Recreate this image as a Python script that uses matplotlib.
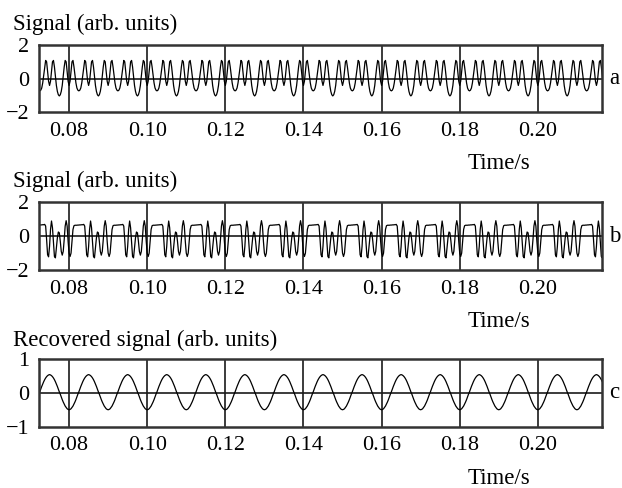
import numpy as np
import matplotlib.pyplot as plt

plt.rcParams['font.family'] = ['Liberation Serif', 'DejaVu Serif']
plt.rcParams['axes.unicode_minus'] = True

# the three traces repeat every 10 ms; one period,
# 40 samples (0.25 ms apart) starting at t = 0.08 s
period = 0.01
n_per = 40
sig_a = [-0.40, -0.15, 0.45, 1.00, 1.08, 0.70, 0.20, -0.25, -0.55, -0.68,
         -0.72, -0.68, -0.55, -0.25, 0.20, 0.70, 1.08, 1.00, 0.45, -0.15,
         -0.40, -0.15, 0.45, 1.00, 1.08, 0.70, 0.15, -0.40, -0.75, -0.95,
         -1.02, -0.95, -0.75, -0.40, 0.15, 0.70, 1.08, 1.00, 0.45, -0.15]
sig_b = [-1.00, -1.20, -1.00, -0.30, 0.40, 0.62, 0.65, 0.65, 0.65, 0.66,
         0.66, 0.67, 0.67, 0.68, 0.68, 0.70, 0.60, -0.20, -1.10, -1.22,
         -0.60, 0.40, 0.90, 0.50, -0.40, -1.20, -1.28, -0.70, -0.10, 0.25,
         0.20, -0.30, -0.90, -1.12, -0.90, -0.20, 0.60, 0.92, 0.60, -0.30]
sig_c = [-0.50, -0.49, -0.47, -0.43, -0.39, -0.33, -0.27, -0.20, -0.12, -0.04,
         0.03, 0.11, 0.19, 0.26, 0.33, 0.39, 0.44, 0.48, 0.51, 0.53,
         0.54, 0.53, 0.51, 0.48, 0.44, 0.39, 0.33, 0.26, 0.19, 0.11,
         0.03, -0.04, -0.12, -0.20, -0.27, -0.33, -0.39, -0.43, -0.47, -0.49]

titles = ['Signal (arb. units)', 'Signal (arb. units)', 'Recovered signal (arb. units)']
tags = ['a', 'b', 'c']
xticks = [0.08, 0.10, 0.12, 0.14, 0.16, 0.18, 0.20]
ylims = [(-2, 2), (-2, 2), (-1, 1)]
yticks = [[-2, 0, 2], [-2, 0, 2], [-1, 0, 1]]

n_rep = 15
t = 0.07 + (period / n_per) * np.arange(n_rep * n_per + 1)

def tile(p):
    return np.append(np.tile(p, n_rep), p[0])

fig = plt.figure(figsize=(6.22, 4.88), dpi=100)
bottoms = [0.7695, 0.4467, 0.1257]
title_y = [0.9385, 0.6174, 0.291]
label_y = [1 - 169.0 / 488, 1 - 327.0 / 488, 1 - 484.5 / 488]

for i, sig in enumerate([sig_a, sig_b, sig_c]):
    ax = fig.add_axes([0.0627, bottoms[i], 0.905, 0.1385])
    ax.set_xlim(0.0723, 0.2164)
    ax.set_ylim(*ylims[i])
    for x in xticks:
        ax.axvline(x, color='#1a1a1a', lw=1.2, zorder=1)
    ax.axhline(0, color='#1a1a1a', lw=1.2, zorder=1)
    ax.plot(t, tile(sig), color='black', lw=0.9, zorder=2)
    ax.set_xticks(xticks)
    ax.set_xticklabels(['%.2f' % x for x in xticks])
    ax.set_yticks(yticks[i])
    ax.set_yticklabels([str(v).replace('-', '\u2212') for v in yticks[i]])
    ax.tick_params(length=0, labelsize=16, pad=7)
    for s in ax.spines.values():
        s.set_linewidth(1.8)
        s.set_color('#333333')
    ax.text(1.0124, 0.5, tags[i], transform=ax.transAxes, fontsize=16.5,
            ha='left', va='center')
    fig.text(13 / 622, title_y[i], titles[i], fontsize=16.5, ha='left', va='baseline')
    fig.text(499 / 622, label_y[i], 'Time/s', fontsize=16.5, ha='center', va='baseline')

fig.savefig('out.png', dpi=100)
